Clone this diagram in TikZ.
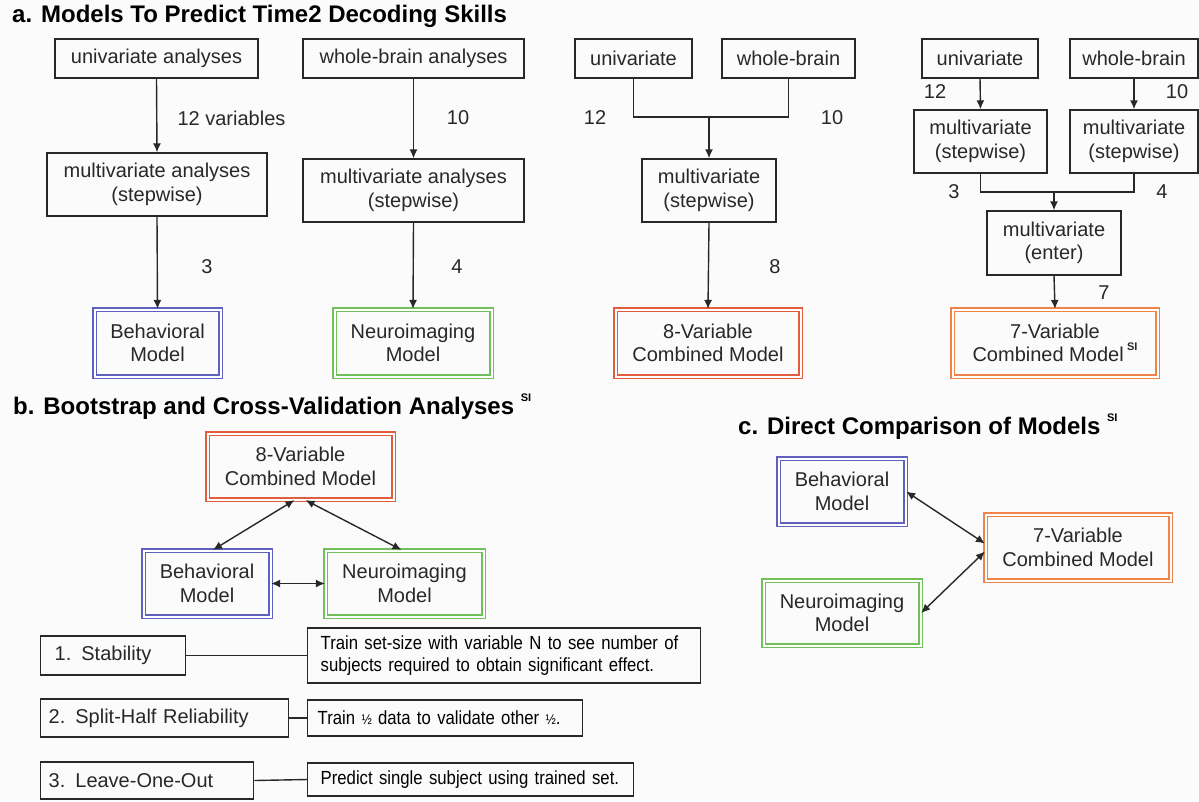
\documentclass[tikz,border=0pt]{standalone}
\usepackage{fontspec}
\setmainfont{Liberation Sans}
\newfontfamily\narrowfont{Liberation Sans}[FakeStretch=0.88]
\usetikzlibrary{arrows.meta}
\definecolor{inkgray}{RGB}{40,40,40}
\definecolor{paper}{RGB}{251,251,251}
\definecolor{behblue}{RGB}{96,96,190}
\definecolor{neugreen}{RGB}{112,192,92}
\definecolor{combred}{RGB}{226,92,62}
\definecolor{comborange}{RGB}{240,132,72}
\newcommand{\SIsup}{\raisebox{0.55em}{\bfseries\fontsize{11}{11}\selectfont SI}}
\newcommand{\halfsym}{{\fontsize{14}{14}\selectfont\textonehalf}}

\begin{document}
\begin{tikzpicture}[x=1pt,y=-1pt,
  every node/.style={text=inkgray,font=\fontsize{20}{23.5}\selectfont},
  anbox/.style={draw=inkgray,line width=1.4pt,inner sep=0pt,align=center},
  modelbox/.style={draw=#1,line width=1.2pt,double=white,double distance=2pt,inner sep=0pt,align=center},
  title/.style={anchor=west,inner sep=0pt,text=black,font=\bfseries\fontsize{24}{28}\selectfont},
  num/.style={inner sep=0pt},
  link/.style={draw=inkgray,line width=1.4pt},
  flow/.style={link,-{Latex[length=9pt,width=8pt]}},
  both/.style={link,{Latex[length=9pt,width=8pt]}-{Latex[length=9pt,width=8pt]}},
  infobox/.style={anbox,anchor=west,align=left,inner xsep=13pt,text=black,font=\narrowfont\fontsize{19}{21.5}\selectfont}]

\fill[paper] (0,0) rectangle (1199,801);
\useasboundingbox (0,0) rectangle (1199,801);

% a. models
\node[title] (titleA) at (12,16) {a. Models To Predict Time2 Decoding Skills};

\node[anbox,minimum width=203pt,minimum height=39pt] (uniA) at (156.5,58.5) {univariate analyses};
\node[anbox,minimum width=220pt,minimum height=63pt] (mvA) at (157,184.5) {multivariate analyses\\(stepwise)};
\node[modelbox=behblue,minimum width=126pt,minimum height=67pt] (behA) at (157.5,343) {Behavioral\\Model};
\draw[flow] (uniA.south) -- (mvA.north);
\draw[flow] (mvA.south) -- (behA.north);
\node[num] (nA1) at (231.5,118) {12 variables};
\node[num] (nA2) at (207,267) {3};

\node[anbox,minimum width=221pt,minimum height=39pt] (wbB) at (413.5,58.5) {whole-brain analyses};
\node[anbox,minimum width=221pt,minimum height=63pt] (mvB) at (413.5,190.5) {multivariate analyses\\(stepwise)};
\node[modelbox=neugreen,minimum width=157pt,minimum height=67pt] (neuB) at (413,343) {Neuroimaging\\Model};
\draw[flow] (wbB.south) -- (mvB.north);
\draw[flow] (mvB.south) -- (neuB.north);
\node[num] (nB1) at (458,118) {10};
\node[num] (nB2) at (457,267) {4};

\node[anbox,minimum width=117pt,minimum height=39pt] (uniC) at (633.5,58.5) {univariate};
\node[anbox,minimum width=133pt,minimum height=39pt] (wbC) at (788.5,58.5) {whole-brain};
\node[anbox,minimum width=134pt,minimum height=63pt] (mvC) at (709,190.5) {multivariate\\(stepwise)};
\node[modelbox=combred,minimum width=185pt,minimum height=67pt] (combC) at (708,343) {8-Variable\\Combined Model};
\coordinate (jC) at (709,117);
\draw[link] (uniC.south) |- (jC) -| (wbC.south);
\draw[flow] (jC) -- (mvC.north);
\draw[flow] (mvC.south) -- (combC.north);
\node[num] (nC1) at (595,118) {12};
\node[num] (nC2) at (832,118) {10};
\node[num] (nC3) at (775,267) {8};

\node[anbox,minimum width=116pt,minimum height=39pt] (uniD) at (980,58.5) {univariate};
\node[anbox,minimum width=128pt,minimum height=39pt] (wbD) at (1134,58.5) {whole-brain};
\node[anbox,minimum width=133pt,minimum height=63pt] (mvD1) at (980.5,141.5) {multivariate\\(stepwise)};
\node[anbox,minimum width=128pt,minimum height=63pt] (mvD2) at (1134,141.5) {multivariate\\(stepwise)};
\node[anbox,minimum width=134pt,minimum height=64pt] (mvE) at (1054,243) {multivariate\\(enter)};
\node[modelbox=comborange,minimum width=205pt,minimum height=67pt] (combD) at (1055,343) {7-Variable\\Combined Model\,\SIsup};
\draw[flow] (uniD.south) -- (mvD1.north);
\draw[flow] (wbD.south) -- (mvD2.north);
\coordinate (jD) at (1054,192);
\draw[link] (mvD1.south) |- (jD) -| (mvD2.south);
\draw[flow] (jD) -- (mvE.north);
\draw[flow] (mvE.south) -- (combD.north);
\node[num] (nD1) at (935,92) {12};
\node[num] (nD2) at (1177,92) {10};
\node[num] (nD3) at (954,192) {3};
\node[num] (nD4) at (1162,192) {4};
\node[num] (nD5) at (1104,293) {7};

% b. bootstrap
\node[title] (titleB) at (13,407) {b. Bootstrap and Cross-Validation Analyses \SIsup};
\node[modelbox=combred,minimum width=186pt,minimum height=66pt] (combB) at (300.5,466.5) {8-Variable\\Combined Model};
\node[modelbox=behblue,minimum width=127pt,minimum height=66pt] (behB) at (207,583.5) {Behavioral\\Model};
\node[modelbox=neugreen,minimum width=158pt,minimum height=66pt] (neuB2) at (404.5,583.5) {Neuroimaging\\Model};
\draw[both] ([xshift=-6pt]combB.south) -- ([xshift=6pt]behB.north);
\draw[both] ([xshift=5pt]combB.south) -- ([xshift=-3pt]neuB2.north);
\draw[both] (behB.east) -- (neuB2.west);

\node[anbox,anchor=west,align=left,inner xsep=14pt,text width=117pt,minimum height=39pt] (stab) at (40,655.5) {1. Stability};
\node[infobox,text width=367pt,minimum height=55pt] (stabtxt) at (307,655.5) {Train set-size with variable N to see number of\\subjects required to obtain significant effect.};
\node[anbox,anchor=west,align=left,inner xsep=8pt,text width=232pt,minimum height=38pt] (split) at (40,718) {2. Split-Half Reliability};
\node[infobox,inner xsep=10pt,text width=255pt,minimum height=36pt] (splittxt) at (307,718) {Train \halfsym{} data to validate other \halfsym.};
\node[anbox,anchor=west,align=left,inner xsep=8pt,text width=197pt,minimum height=37pt] (loo) at (40,780.5) {3. Leave-One-Out};
\node[infobox,text width=300pt,minimum height=33pt] (lootxt) at (307,779.5) {Predict single subject using trained set.};
\draw[link] (stab.east) -- (stabtxt.west);
\draw[link] (split.east) -- (splittxt.west);
\draw[link] (loo.east) -- (lootxt.west);

% c. direct comparison
\node[title] (titleC) at (738,427) {c. Direct Comparison of Models \SIsup};
\node[modelbox=behblue,minimum width=127pt,minimum height=66pt] (behC) at (842,491.5) {Behavioral\\Model};
\node[modelbox=neugreen,minimum width=157pt,minimum height=65pt] (neuC) at (842,613) {Neuroimaging\\Model};
\node[modelbox=comborange,minimum width=185pt,minimum height=66pt] (combC2) at (1078,547.5) {7-Variable\\Combined Model};
\draw[both] (behC.east) -- ([yshift=4pt]combC2.west);
\draw[both] (neuC.east) -- ([yshift=-4pt]combC2.west);
\end{tikzpicture}
\end{document}
